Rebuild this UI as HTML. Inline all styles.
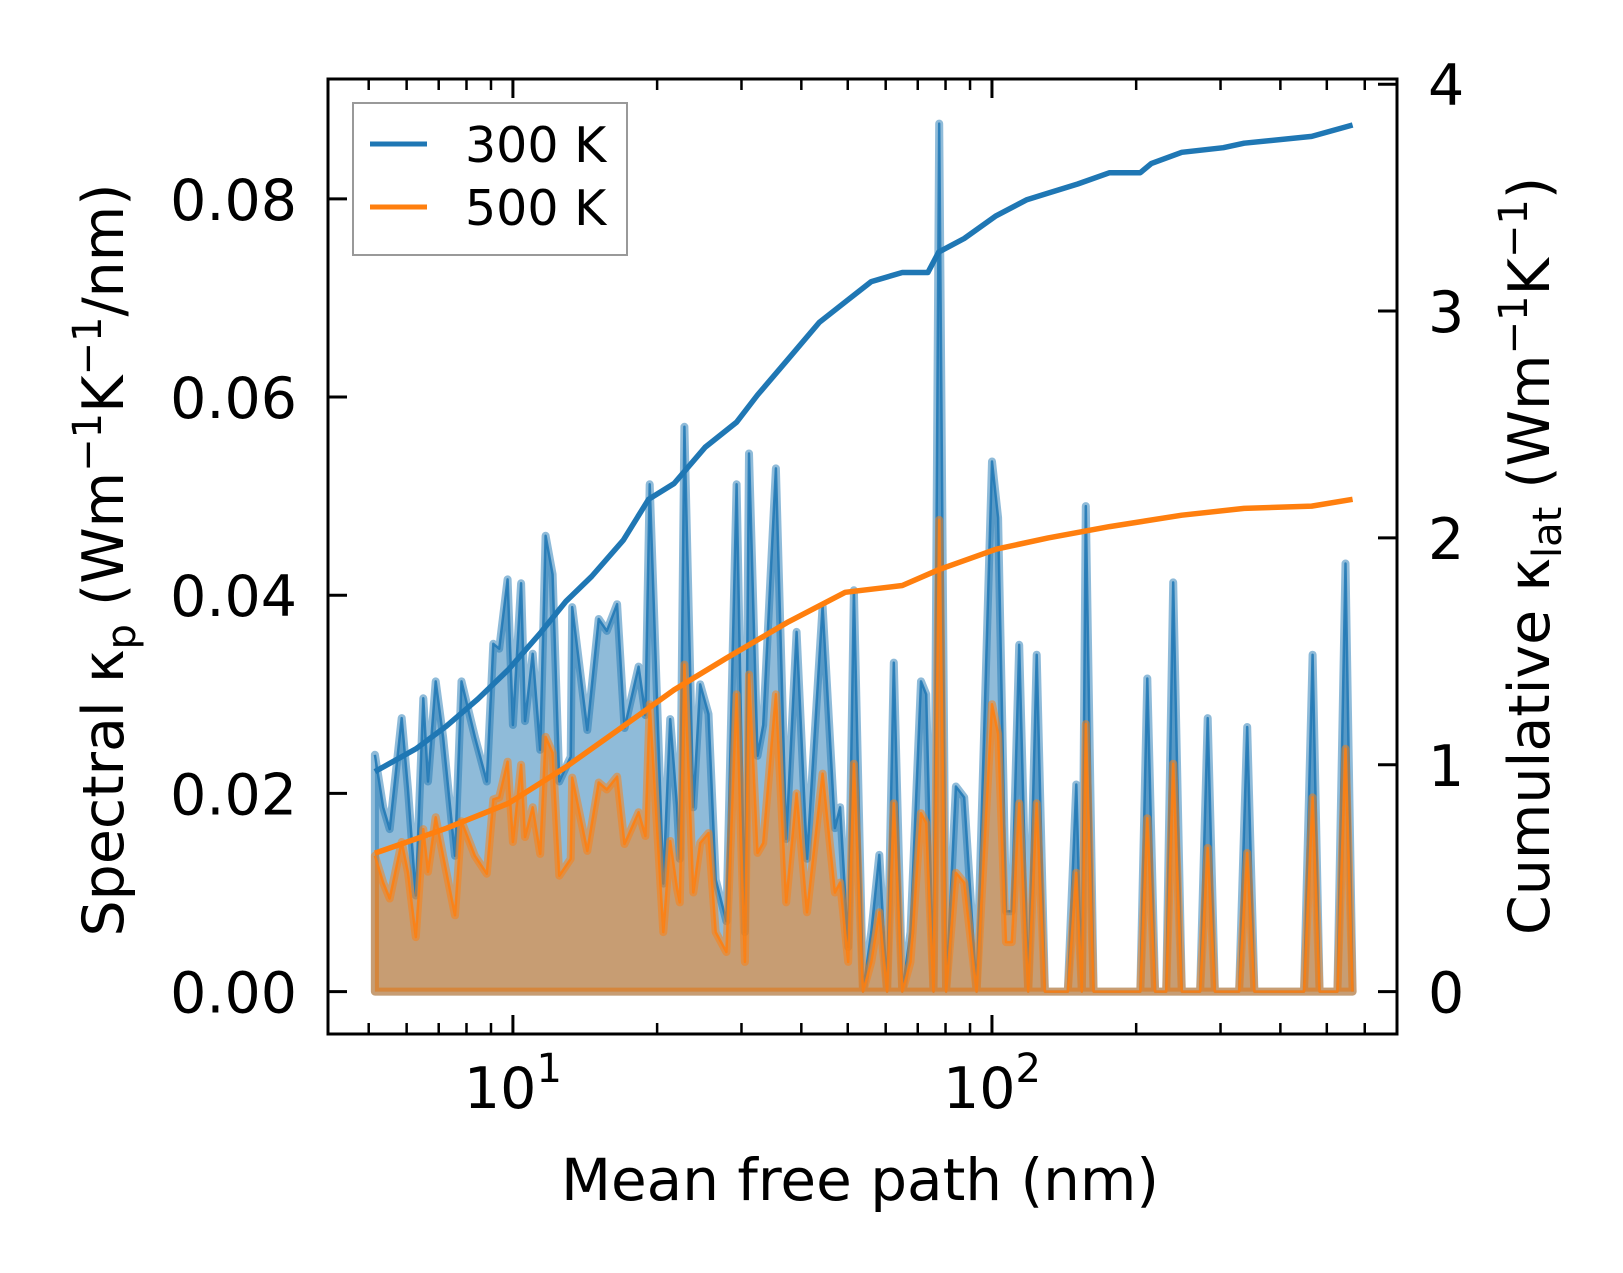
<!DOCTYPE html>
<html><head><meta charset="utf-8"><title>Spectral and cumulative lattice thermal conductivity vs. mean free path</title>
<style>
html,body{margin:0;padding:0;background:#fff;}
svg{display:block;font-family:"DejaVu Sans","Liberation Sans",sans-serif;}
</style></head>
<body>
<svg id="chart" width="1623" height="1273" viewBox="0 0 1623 1273" xmlns="http://www.w3.org/2000/svg">
<rect x="0" y="0" width="1623" height="1273" fill="#fff"/>
<g id="plot"></g>
<g id="axes"></g>
<text x="860" y="1200" font-size="58" text-anchor="middle">Mean free path (nm)</text>
<text transform="translate(123,560) rotate(-90)" font-size="57" text-anchor="middle">Spectral κ<tspan font-size="40" dy="12">p</tspan><tspan dy="-12"> (Wm</tspan><tspan font-size="40" dy="-22">−1</tspan><tspan dy="22">K</tspan><tspan font-size="40" dy="-22">−1</tspan><tspan dy="22">/nm)</tspan></text>
<text transform="translate(1549,556) rotate(-90)" font-size="57" text-anchor="middle">Cumulative κ<tspan font-size="40" dy="12">lat</tspan><tspan dy="-12"> (Wm</tspan><tspan font-size="40" dy="-22">−1</tspan><tspan dy="22">K</tspan><tspan font-size="40" dy="-22">−1</tspan><tspan dy="22">)</tspan></text>
<g>
<rect x="353" y="103" width="274" height="152" fill="#fff" fill-opacity="0.8" stroke="#999" stroke-width="2"/>
<g>
<line x1="370" y1="144" x2="427" y2="144" stroke="#1f77b4" stroke-width="5"/>
<text x="465" y="162" font-size="49">300 K</text>
</g>
<g>
<line x1="370" y1="207" x2="427" y2="207" stroke="#ff7f0e" stroke-width="5"/>
<text x="465" y="225" font-size="49">500 K</text>
</g>
</g>
</svg>
<script>
// ---- data ----
const mfp = [5.15,5.36,5.53,5.86,6.04,6.27,6.50,6.65,6.90,7.15,7.57,7.81,8.33,8.82,9.10,9.36,9.75,10.0,10.4,10.6,11.0,11.4,11.7,12.1,12.5,13.2,13.3,14.3,15.1,15.7,16.5,17.1,18.3,18.9,19.3,20.6,21.3,22.0,
 22.3,22.8,23.8,24.6,25.6,26.5,27.9,29.3,30.5,31.1,32.4,33.3,35.4,37.2,39.1,41.1,44.3,47.0,48.2,50.1,51.5,53.8,56.0,58.2,60.4,62.4,65.0,67.6,71.1,72.9,75.5,77.6,80.2,84.1,87.5,92.9,100,103,107,110,114,119,124,129,144,150,154,157,163,204,211,219,231,239,249,272,282,292,328,341,353,448,467,483,526,547,566];
const spec300 = [0.0239,0.0186,0.0164,0.0276,0.0204,0.0097,0.0296,0.0212,0.0313,0.0257,0.0137,0.0313,0.0257,0.0212,0.0351,0.0346,0.0416,0.0269,0.0412,0.0273,0.0341,0.0244,0.0460,0.0421,0.0212,0.0237,0.0388,0.0264,0.0376,0.0364,0.0391,0.0266,0.0328,0.0279,0.0512,0.0109,0.0275,0.0187,
 0.0134,0.0570,0.0186,0.0310,0.0280,0.0113,0.0071,0.0512,0.0060,0.0543,0.0238,0.0269,0.0528,0.0154,0.0363,0.0134,0.0389,0.0165,0.0186,0.0045,0.0405,0,0.0060,0.0138,0,0.0332,0,0.0060,0.0313,0.0300,0,0.0876,0,0.0207,0.0196,0,0.0535,0.0478,0.0081,0.0081,0.0350,0,0.0340,0,0,0.0209,0,0.0490,0,0,0.0316,0,0,0.0413,0,0,0.0276,0,0,0.0267,0,0,0.0340,0,0,0.0432,0];
const spec500 = [0.0137,0.0110,0.0094,0.0151,0.0120,0.0055,0.0164,0.0121,0.0176,0.0137,0.0077,0.0172,0.0137,0.0119,0.0194,0.0196,0.0232,0.0151,0.0229,0.0156,0.0186,0.0139,0.0257,0.0241,0.0117,0.0134,0.0216,0.0142,0.0211,0.0204,0.0217,0.0149,0.0181,0.0157,0.0290,0.0060,0.0152,0.0104,
 0.0090,0.0330,0.0100,0.0150,0.0160,0.0060,0.0040,0.0300,0.0030,0.0320,0.0140,0.0150,0.0300,0.0090,0.0200,0.0080,0.0220,0.0100,0.0110,0.0030,0.0230,0,0.0030,0.0080,0,0.0190,0,0.0030,0.0180,0.0170,0,0.0476,0,0.0120,0.0110,0,0.0290,0.0260,0.0050,0.0050,0.0190,0,0.0190,0,0,0.0120,0,0.0270,0,0,0.0175,0,0,0.0230,0,0,0.0145,0,0,0.0140,0,0,0.0196,0,0,0.0245,0];
const cumMfp300 = [5.15,6.27,7.26,8.45,9.79,11.4,12.9,14.6,17.0,19.2,21.7,25.2,29.3,32.4,37.6,43.6,49.4,56.0,65.0,73.5,77.4,87.5,102,118,131,151,176,204,215,249,304,336,465,566];
const cum300 = [0.97,1.07,1.17,1.29,1.42,1.58,1.72,1.83,1.99,2.17,2.24,2.40,2.51,2.63,2.79,2.95,3.04,3.13,3.17,3.17,3.26,3.32,3.42,3.49,3.52,3.56,3.61,3.61,3.65,3.70,3.72,3.74,3.77,3.82];
const cumMfp500 = [5.15,7.26,9.79,12.9,17.0,21.7,27.9,37.6,49.4,65.0,77.4,102,131,176,249,336,465,566];
const cum500 = [0.61,0.72,0.83,0.99,1.17,1.33,1.47,1.63,1.76,1.79,1.86,1.95,2.00,2.05,2.10,2.13,2.14,2.17];
const leftTicks = [0, 0.02, 0.04, 0.06, 0.08];
const leftTickLabels = ["0.00","0.02","0.04","0.06","0.08"];
const rightTicks = [0,1,2,3,4];
const rightTickLabels = ["0","1","2","3","4"];
const xMajor = [10, 100];
const xMajorExp = ["1","2"];
const xMinor = [4,5,6,7,8,9,20,30,40,50,60,70,80,90,200,300,400,500,600,700];

// ---- scales ----
const L=328,R=1397,T=79,B=1034;
const LOGMIN=0.614, LOGMAX=2.8455;
const Y0=991.6, SPECPX=9909, CUMPX=226.85;
function xs(v){return L+(Math.log10(v)-LOGMIN)/(LOGMAX-LOGMIN)*(R-L);}
function ys(v){return Y0-v*SPECPX;}
function yc(v){return Y0-v*CUMPX;}
const NS="http://www.w3.org/2000/svg";
const plot=document.getElementById('plot');
const axes=document.getElementById('axes');
function mk(tag,attrs,parent){const e=document.createElementNS(NS,tag);for(const k in attrs)e.setAttribute(k,attrs[k]);parent.appendChild(e);return e;}

function specSeries(vals,color,name){
  const pts=mfp.map((m,i)=>xs(m).toFixed(1)+','+ys(vals[i]).toFixed(1));
  const area='M'+xs(mfp[0]).toFixed(1)+','+ys(0)+' L'+pts.join(' L')+' L'+xs(mfp[mfp.length-1]).toFixed(1)+','+ys(0)+' Z';
  const f=mk('path',{d:area,fill:color,'fill-opacity':0.5,stroke:color,'stroke-opacity':0.5,'stroke-width':8,'stroke-linejoin':'round'},plot);
  
  
  const ln=mk('polyline',{points:pts.join(' '),fill:'none',stroke:color,'stroke-opacity':0.85,'stroke-width':2.5,'stroke-linejoin':'round'},plot);
  
  
}
specSeries(spec300,'#1f77b4','spectral-300k');
specSeries(spec500,'#ff7f0e','spectral-500k');

function cumSeries(xv,vals,color,name){
  const pts=xv.map((m,i)=>xs(m).toFixed(1)+','+yc(vals[i]).toFixed(1));
  const ln=mk('polyline',{points:pts.join(' '),fill:'none',stroke:color,'stroke-width':5.5,'stroke-linejoin':'round'},plot);
  
  
}
cumSeries(cumMfp300,cum300,'#1f77b4','cumulative-300k-line');
cumSeries(cumMfp500,cum500,'#ff7f0e','cumulative-500k-line');

// ---- axes ----
const frame=mk('rect',{x:L,y:T,width:R-L,height:B-T,fill:'none',stroke:'#000','stroke-width':3},axes);


leftTicks.forEach((v,i)=>{
  const y=ys(v);
  const t=mk('line',{x1:L,y1:y,x2:L+19,y2:y,stroke:'#000','stroke-width':3},axes);
  
  
  const lb=mk('text',{x:297,y:y+21,'font-size':57,'text-anchor':'end'},axes);
  lb.textContent=leftTickLabels[i];
  
  
});
rightTicks.forEach((v,i)=>{
  const y=yc(v);
  const t=mk('line',{x1:R-19,y1:y,x2:R,y2:y,stroke:'#000','stroke-width':3},axes);
  
  
  const lb=mk('text',{x:1428,y:y+21,'font-size':57},axes);
  lb.textContent=rightTickLabels[i];
  
  
});
xMajor.forEach((v,i)=>{
  const x=xs(v);
  [[B,B-19],[T,T+19]].forEach(p=>{
    const t=mk('line',{x1:x,y1:p[0],x2:x,y2:p[1],stroke:'#000','stroke-width':3},axes);
    
    
  });
  const lb=mk('text',{x:x,y:1108,'font-size':57,'text-anchor':'middle'},axes);
  
  
  lb.appendChild(document.createTextNode('10'));
  const sup=mk('tspan',{'font-size':40,dy:-26},lb);
  sup.textContent=xMajorExp[i];
});
xMinor.forEach(v=>{
  const x=xs(v);
  if(x<L+2||x>R-2)return;
  [[B,B-11],[T,T+11]].forEach(p=>{
    const t=mk('line',{x1:x,y1:p[0],x2:x,y2:p[1],stroke:'#000','stroke-width':2.5},axes);
    
    
  });
});
</script>
</body></html>
